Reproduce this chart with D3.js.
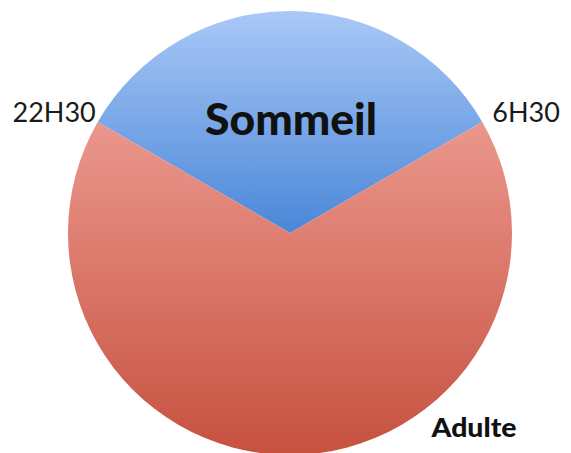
<!DOCTYPE html>
<meta charset="utf-8">
<script src="https://d3js.org/d3.v7.min.js"></script>
<style>
  body { margin: 0; background: #fff; }
</style>
<div id="viz"></div>
<script>

var categories = ["Sommeil", "Adulte"],
    hours = [8, 16],
    timeLabels = ["22H30", "6H30"];

var width = 571, height = 453,
    cx = 290, cy = 233, radius = 222;

var svg = d3.select("#viz")
  .append("svg")
    .attr("width", width)
    .attr("height", height);

var defs = svg.append("defs");

var grads = [
  {id: "gSommeil", top: "#a9c8f7", bottom: "#4a87d8"},
  {id: "gAdulte", top: "#eb978d", bottom: "#c6513f"}
];
grads.forEach(function (g) {
  var lg = defs.append("linearGradient")
    .attr("id", g.id)
    .attr("x1", 0).attr("y1", 0).attr("x2", 0).attr("y2", 1);
  lg.append("stop").attr("offset", "0%").attr("stop-color", g.top);
  lg.append("stop").attr("offset", "100%").attr("stop-color", g.bottom);
});

var pie = d3.pie()
  .sort(null)
  .startAngle(-Math.PI / 3)
  .endAngle(-Math.PI / 3 + 2 * Math.PI);

var arc = d3.arc()
  .innerRadius(0)
  .outerRadius(radius);

var arcs = pie(hours);

var g = svg.append("g")
  .attr("transform", "translate(" + cx + "," + cy + ")");

g.selectAll("path")
  .data(arcs)
  .enter()
  .append("path")
    .attr("d", arc)
    .style("fill", function (d, i) { return "url(#" + grads[i].id + ")"; });

// heures aux limites du sommeil
var edge = function (a) {
  return [Math.sin(a) * radius, -Math.cos(a) * radius];
};
var p0 = edge(arcs[0].startAngle), p1 = edge(arcs[0].endAngle);

g.append("text")
  .attr("x", p0[0] - 2)
  .attr("y", p0[1])
  .attr("text-anchor", "end")
  .style("font-family", "Lato")
  .style("font-size", "27px")
  .style("fill", "#1a1a1a")
  .text(timeLabels[0]);

g.append("text")
  .attr("x", p1[0] + 10)
  .attr("y", p1[1])
  .attr("text-anchor", "start")
  .style("font-family", "Lato")
  .style("font-size", "27px")
  .style("fill", "#1a1a1a")
  .text(timeLabels[1]);

// noms des tranches
g.append("text")
  .attr("x", 1)
  .attr("y", -98)
  .attr("text-anchor", "middle")
  .attr("textLength", 172)
  .attr("lengthAdjust", "spacingAndGlyphs")
  .style("font-family", "Lato")
  .style("font-weight", 900)
  .style("font-size", "44px")
  .style("fill", "#111")
  .text(categories[0]);

g.append("text")
  .attr("x", 184)
  .attr("y", 204)
  .attr("text-anchor", "middle")
  .attr("textLength", 85)
  .attr("lengthAdjust", "spacingAndGlyphs")
  .style("font-family", "Lato")
  .style("font-weight", 900)
  .style("font-size", "27px")
  .style("fill", "#111")
  .text(categories[1]);

</script>
